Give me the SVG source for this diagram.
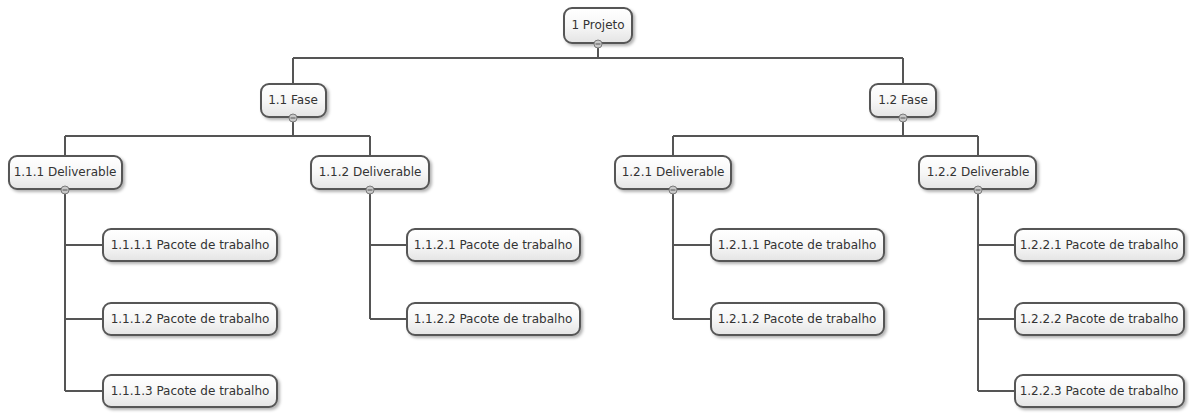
<svg xmlns="http://www.w3.org/2000/svg" width="1189" height="414" viewBox="0 0 1189 414">
<defs>
<linearGradient id="g" x1="0" y1="0" x2="0" y2="1">
<stop offset="0" stop-color="#ffffff"/>
<stop offset="0.5" stop-color="#f7f7f7"/>
<stop offset="1" stop-color="#e4e4e4"/>
</linearGradient>
<filter id="sh" x="-10%" y="-20%" width="130%" height="160%">
<feDropShadow dx="2" dy="2" stdDeviation="1.5" flood-color="#000" flood-opacity="0.3"/>
</filter>
<g id="tab">
<circle cx="0" cy="0" r="4" fill="#c8c8c8" stroke="#7a7a7a" stroke-width="1"/>
<line x1="-2.5" y1="0" x2="2.5" y2="0" stroke="#555" stroke-width="1"/>
</g>
</defs>
<style>
.box{fill:url(#g);stroke:#575757;stroke-width:2;filter:url(#sh)}
.t{font-family:"DejaVu Sans",Verdana,sans-serif;font-size:12px;fill:#333;text-anchor:middle;dominant-baseline:central}
.c{fill:none;stroke:#555;stroke-width:2}
</style>
<rect width="1189" height="414" fill="#fff"/>
<g id="connectors">
<path class="c" d="M598 48V58M293 58H903M293 58V84M903 58V84"/>
<path class="c" d="M293 122V136M65 136H370M65 136V156M370 136V156"/>
<path class="c" d="M903 122V136M673 136H978M673 136V156M978 136V156"/>
<path class="c" d="M65 194V391M65 245H103M65 319H103M65 391H103"/>
<path class="c" d="M370 194V319M370 245H407M370 319H407"/>
<path class="c" d="M673 194V319M673 245H711M673 319H711"/>
<path class="c" d="M978 194V391M978 245H1015M978 319H1015M978 391H1015"/>
</g>
<g id="n1"><rect class="box" x="564" y="8" width="68" height="35" rx="8"/><text class="t" x="598" y="25">1 Projeto</text><use href="#tab" x="598" y="44"/></g>
<g id="n1_1"><rect class="box" x="261" y="84" width="65" height="33" rx="8"/><text class="t" x="293" y="100">1.1 Fase</text><use href="#tab" x="293" y="118"/></g>
<g id="n1_2"><rect class="box" x="870" y="84" width="66" height="33" rx="8"/><text class="t" x="903" y="100">1.2 Fase</text><use href="#tab" x="903" y="118"/></g>
<g id="n1_1_1"><rect class="box" x="9" y="156" width="113" height="33" rx="8"/><text class="t" x="65" y="172">1.1.1 Deliverable</text><use href="#tab" x="65" y="190"/></g>
<g id="n1_1_2"><rect class="box" x="311" y="156" width="118" height="33" rx="8"/><text class="t" x="370" y="172">1.1.2 Deliverable</text><use href="#tab" x="370" y="190"/></g>
<g id="n1_2_1"><rect class="box" x="615" y="156" width="116" height="33" rx="8"/><text class="t" x="673" y="172">1.2.1 Deliverable</text><use href="#tab" x="673" y="190"/></g>
<g id="n1_2_2"><rect class="box" x="919" y="156" width="117" height="33" rx="8"/><text class="t" x="978" y="172">1.2.2 Deliverable</text><use href="#tab" x="978" y="190"/></g>
<g id="n1_1_1_1"><rect class="box" x="103" y="229" width="174" height="32" rx="8"/><text class="t" x="190" y="245">1.1.1.1 Pacote de trabalho</text></g>
<g id="n1_1_1_2"><rect class="box" x="103" y="303" width="174" height="32" rx="8"/><text class="t" x="190" y="319">1.1.1.2 Pacote de trabalho</text></g>
<g id="n1_1_1_3"><rect class="box" x="103" y="375" width="174" height="32" rx="8"/><text class="t" x="190" y="391">1.1.1.3 Pacote de trabalho</text></g>
<g id="n1_1_2_1"><rect class="box" x="407" y="229" width="173" height="32" rx="8"/><text class="t" x="493" y="245">1.1.2.1 Pacote de trabalho</text></g>
<g id="n1_1_2_2"><rect class="box" x="407" y="303" width="173" height="32" rx="8"/><text class="t" x="493" y="319">1.1.2.2 Pacote de trabalho</text></g>
<g id="n1_2_1_1"><rect class="box" x="711" y="229" width="173" height="32" rx="8"/><text class="t" x="797" y="245">1.2.1.1 Pacote de trabalho</text></g>
<g id="n1_2_1_2"><rect class="box" x="711" y="303" width="173" height="32" rx="8"/><text class="t" x="797" y="319">1.2.1.2 Pacote de trabalho</text></g>
<g id="n1_2_2_1"><rect class="box" x="1015" y="229" width="169" height="32" rx="8"/><text class="t" x="1099" y="245">1.2.2.1 Pacote de trabalho</text></g>
<g id="n1_2_2_2"><rect class="box" x="1015" y="303" width="169" height="32" rx="8"/><text class="t" x="1099" y="319">1.2.2.2 Pacote de trabalho</text></g>
<g id="n1_2_2_3"><rect class="box" x="1015" y="375" width="169" height="32" rx="8"/><text class="t" x="1099" y="391">1.2.2.3 Pacote de trabalho</text></g>
</svg>
